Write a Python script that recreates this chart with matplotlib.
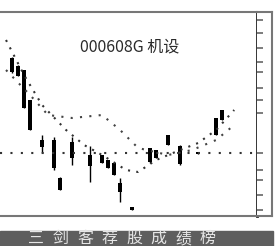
import numpy as np
import matplotlib.pyplot as plt
from matplotlib.patches import Rectangle

plt.rcParams['font.family'] = ['Noto Sans CJK SC', 'DejaVu Sans']

# candles: day, open, close, high, low
days   = [1, 2, 3, 4, 6, 8, 9, 11, 14, 16, 17, 18, 19, 21, 24, 25, 27, 29, 32, 35, 36]
opens  = [15.9, 15.5, 15.3, 13.8, 11.8, 11.8, 9.9, 11.7, 11.05, 11.05, 10.8, 10.65, 9.65, 8.45, 11.4, 11.3, 12.05, 11.5, 11.2, 12.9, 13.3]
closes = [15.2, 15.0, 13.4, 12.3, 11.45, 10.4, 9.3, 10.9, 10.5, 10.65, 10.4, 10.05, 9.2, 8.3, 10.7, 10.9, 11.55, 10.6, 11.1, 12.05, 12.8]
highs  = [15.95, 15.55, 15.3, 13.8, 12.05, 11.95, 9.95, 11.95, 11.5, 11.05, 10.8, 10.65, 9.9, 8.45, 11.4, 11.3, 12.05, 11.55, 11.2, 12.9, 13.3]
lows   = [15.15, 15.0, 13.4, 12.3, 11.15, 10.3, 9.3, 10.55, 9.7, 10.65, 10.4, 10.05, 8.7, 8.3, 10.65, 10.9, 11.55, 10.55, 11.1, 12.05, 12.8]

# moving averages
ma_a_days = [0, 3, 6, 10, 13, 16, 20, 22, 25, 29, 32, 35, 38]
ma_a = [16.8, 15.05, 13.55, 12.3, 11.55, 11.05, 10.3, 10.2, 10.8, 11.3, 11.65, 12.3, 13.3]
ma_b_days = [0, 4, 7, 11, 16, 19, 22, 27, 31, 35, 38]
ma_b = [15.3, 14.05, 13.05, 12.9, 13.05, 12.3, 11.4, 11.05, 11.3, 11.8, 12.55]
level = 11.15

scale_ticks = [17.8, 17.15, 16.4, 15.7, 15.2, 14.4, 13.8, 13.15, 11.15, 10.3, 9.8, 9.05, 8.3]

title = '000608G 机设'
caption = '三剑客荐股成绩榜'

fig = plt.figure(figsize=(2.8, 2.46), dpi=100)
W, H = 280, 246
ax = fig.add_axes([0, (H - 216) / H, 257 / W, (216 - 12) / H])
ax.set_xlim(-1, 41.8)
ax.set_ylim(8.0, 18.2)

for d, o, c, h, l in zip(days, opens, closes, highs, lows):
    ax.vlines(d, l, h, color='black', lw=1.0)
    ax.add_patch(Rectangle((d - 0.28, min(o, c)), 0.56, max(abs(o - c), 0.08),
                           color='black', lw=0))

ax.plot(ma_a_days, ma_a, color='#333333', lw=1.5, ls=(0, (1, 3)))
ax.plot(ma_b_days, ma_b, color='#444444', lw=1.5, ls=(0, (1, 3.5)))
ax.axhline(level, color='#333333', lw=1.5, ls=(0, (1, 4)))

ax.text(80 / 257, 0.83, title, transform=ax.transAxes, fontsize=11.5,
        fontweight='medium', color='#2a2a2a', ha='left', va='center')

ax.set_xticks([])
ax.set_yticks([])
ax.spines['left'].set_visible(False)
for s in ['top', 'bottom']:
    ax.spines[s].set_color('#777777')
    ax.spines[s].set_linewidth(1.5)
ax.spines['right'].set_color('#222222')
ax.spines['right'].set_linewidth(2)

# narrow scale strip on the right
ax2 = fig.add_axes([257 / W, (H - 216) / H, 15 / W, (216 - 12) / H])
ax2.set_ylim(8.0, 18.2)
ax2.set_xticks([])
ax2.set_yticks(scale_ticks)
ax2.tick_params(axis='y', direction='in', length=4, width=1.2,
                color='#666666', labelleft=False, pad=0)
ax2.spines['left'].set_visible(False)
for s in ['top', 'bottom', 'right']:
    ax2.spines[s].set_color('#777777')
    ax2.spines[s].set_linewidth(1.5)

# caption bar, characters spread across it
fig.patches.append(Rectangle((0, 0), 273 / W, (H - 231) / H,
                             transform=fig.transFigure, color='#5e5e5e', zorder=0))
for i, ch in enumerate(caption):
    fig.text((36 + i * 24.5) / W, (H - 238.5) / H, ch, fontsize=11.5,
             color='#e6e6e6', ha='center', va='center')

fig.savefig('out.png', dpi=100)
